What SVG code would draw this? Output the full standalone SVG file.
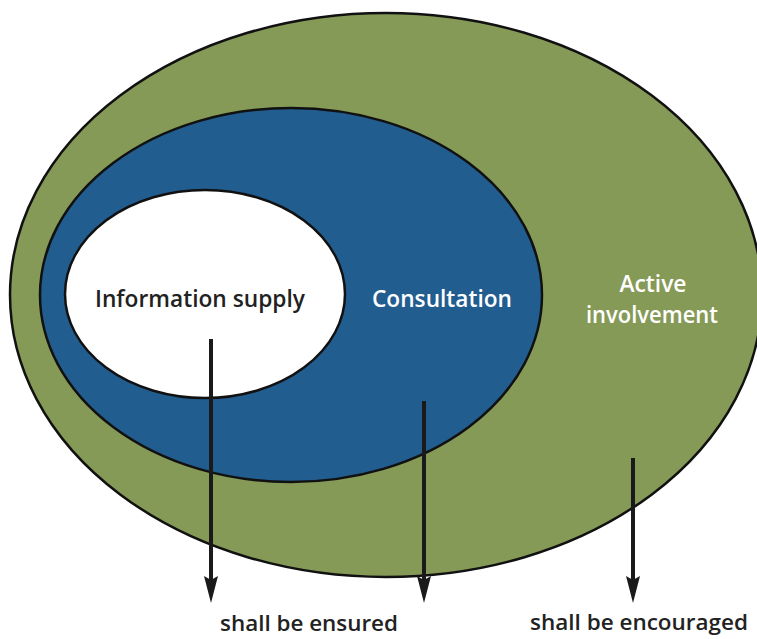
<svg xmlns="http://www.w3.org/2000/svg" width="757" height="639" viewBox="0 0 757 639">
<style>
.ell{stroke:#111;stroke-width:2.5}
.lbl{font-family:"Open Sans","Liberation Sans",sans-serif;font-weight:600;font-size:24px}
.bot{font-size:22px}
.shaft{stroke:#1a1a1a;stroke-width:4}
.head{fill:#1a1a1a}
</style>
<rect width="757" height="639" fill="#fff"/>
<g id="active">
<ellipse class="ell" cx="386" cy="295" rx="376" ry="282" fill="#869a58"/>
<text class="lbl" x="653" y="292" text-anchor="middle" fill="#fff" textLength="67" lengthAdjust="spacingAndGlyphs">Active</text>
<text class="lbl" x="652" y="323" text-anchor="middle" fill="#fff" textLength="132" lengthAdjust="spacingAndGlyphs">involvement</text>
</g>
<g id="consultation">
<ellipse class="ell" cx="291" cy="295" rx="251" ry="187" fill="#225d8f"/>
<text class="lbl" x="372" y="307" fill="#fff" textLength="140" lengthAdjust="spacingAndGlyphs">Consultation</text>
</g>
<g id="information">
<ellipse class="ell" cx="205" cy="294" rx="140" ry="104" fill="#fff"/>
<text class="lbl" x="95" y="307" fill="#222" textLength="210" lengthAdjust="spacingAndGlyphs">Information supply</text>
</g>
<g id="connectors">
<line class="shaft" x1="211" y1="339" x2="211" y2="580"/>
<line class="shaft" x1="424" y1="401" x2="424" y2="580"/>
<line class="shaft" x1="633" y1="458" x2="633" y2="580"/>
<polygon class="head" points="204,576 211,580 218,576 211,603"/>
<polygon class="head" points="417,576 424,580 431,576 424,603"/>
<polygon class="head" points="626,576 633,580 640,576 633,603"/>
</g>
<g id="labels">
<text class="lbl bot" x="220" y="631" fill="#222" textLength="178" lengthAdjust="spacingAndGlyphs">shall be ensured</text>
<text class="lbl bot" x="530" y="630" fill="#222" textLength="218" lengthAdjust="spacingAndGlyphs">shall be encouraged</text>
</g>
</svg>
